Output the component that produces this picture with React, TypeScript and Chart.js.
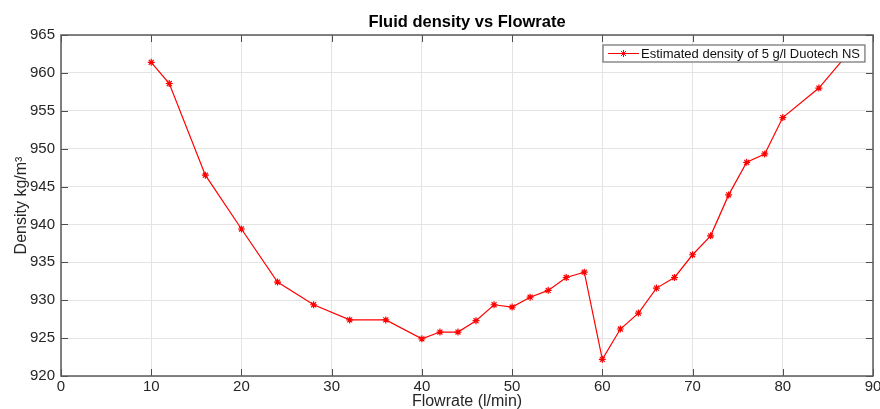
import React, { useEffect, useRef } from "react";
import { Chart, registerables } from "chart.js";

Chart.register(...registerables);

const flowrate = [10, 12, 16, 20, 24, 28, 32, 36, 40, 42, 44, 46, 48, 50, 52, 54, 56, 58, 60, 62, 64, 66, 68, 70, 72, 74, 76, 78, 80, 84, 87];
const density = [961.4, 958.6, 946.5, 939.4, 932.4, 929.4, 927.4, 927.4, 924.9, 925.8, 925.8, 927.3, 929.4, 929.1, 930.4, 931.3, 933.0, 933.7, 922.2, 926.2, 928.3, 931.6, 933.0, 936.0, 938.5, 943.9, 948.2, 949.3, 954.1, 958.0, 962.2];

const xMin = 0;
const xMax = 90;
const xStep = 10;
const yMin = 920;
const yMax = 965;
const yStep = 5;

const chartTitle = "Fluid density vs Flowrate";
const xTitle = "Flowrate (l/min)";
const yTitle = "Density kg/m³";
const seriesLabel = "Estimated density of 5 g/l Duotech NS";

const FONT = "'Liberation Sans', Arial, Helvetica, sans-serif";

function drawStar(ctx: CanvasRenderingContext2D, x: number, y: number, r: number) {
  ctx.beginPath();
  ctx.moveTo(x - r, y);
  ctx.lineTo(x + r, y);
  ctx.moveTo(x, y - r);
  ctx.lineTo(x, y + r);
  const d = r * Math.SQRT1_2;
  ctx.moveTo(x - d, y - d);
  ctx.lineTo(x + d, y + d);
  ctx.moveTo(x - d, y + d);
  ctx.lineTo(x + d, y - d);
  ctx.stroke();
}

const decorPlugin = {
  id: "decor",
  afterDatasetsDraw(chart: any) {
    const ctx = chart.ctx as CanvasRenderingContext2D;
    const { left, right, top, bottom } = chart.chartArea;
    const xs = chart.scales.x;
    const ys = chart.scales.y;
    ctx.save();
    // inward ticks
    ctx.strokeStyle = "#4d4d4d";
    ctx.lineWidth = 1;
    const tl = 7;
    ctx.beginPath();
    xs.ticks.forEach((t: any) => {
      const px = Math.round(xs.getPixelForValue(t.value)) + 0.5;
      ctx.moveTo(px, bottom);
      ctx.lineTo(px, bottom - tl);
      ctx.moveTo(px, top);
      ctx.lineTo(px, top + tl);
    });
    ys.ticks.forEach((t: any) => {
      const py = Math.round(ys.getPixelForValue(t.value)) + 0.5;
      ctx.moveTo(left, py);
      ctx.lineTo(left + tl, py);
      ctx.moveTo(right, py);
      ctx.lineTo(right - tl, py);
    });
    ctx.stroke();
    // box
    ctx.strokeStyle = "#5a5a5a";
    ctx.lineWidth = 1.5;
    ctx.strokeRect(left, top, right - left, bottom - top);

    // legend
    ctx.font = `13px ${FONT}`;
    const tw = ctx.measureText(seriesLabel).width;
    const bx = 603;
    const by = 45;
    const bh = 17;
    const sample = 31;
    const bw = 5 + sample + 3 + tw + 4;
    ctx.fillStyle = "#ffffff";
    ctx.fillRect(bx, by, bw, bh);
    ctx.strokeStyle = "#6e6e6e";
    ctx.lineWidth = 1.2;
    ctx.strokeRect(bx, by, bw, bh);
    ctx.strokeStyle = "#ff0000";
    ctx.lineWidth = 1;
    const cy = by + bh / 2;
    ctx.beginPath();
    ctx.moveTo(bx + 5, cy);
    ctx.lineTo(bx + 5 + sample, cy);
    ctx.stroke();
    drawStar(ctx, bx + 5 + sample / 2, cy, 3.5);
    ctx.fillStyle = "#111111";
    ctx.textBaseline = "middle";
    ctx.textAlign = "left";
    ctx.fillText(seriesLabel, bx + 5 + sample + 2, cy + 0.5);

    // titles
    const cx = (left + right) / 2;
    ctx.fillStyle = "#000000";
    ctx.textAlign = "center";
    ctx.textBaseline = "alphabetic";
    ctx.font = `bold 16.5px ${FONT}`;
    ctx.fillText(chartTitle, cx, 27);
    ctx.fillStyle = "#262626";
    ctx.font = `16px ${FONT}`;
    ctx.fillText(xTitle, cx, 406);
    ctx.save();
    ctx.translate(26, (top + bottom) / 2);
    ctx.rotate(-Math.PI / 2);
    ctx.fillText(yTitle, 0, 0);
    ctx.restore();
    ctx.restore();
  },
};

export default function App() {
  const ref = useRef<HTMLCanvasElement | null>(null);
  useEffect(() => {
    document.body.style.margin = "0";
    const canvas = ref.current;
    if (!canvas) return;
    const points = flowrate.map((f, i) => ({ x: f, y: density[i] }));
    const chart = new Chart(canvas, {
      type: "line",
      data: {
        datasets: [
          {
            label: seriesLabel,
            data: points,
            borderColor: "#ff0000",
            backgroundColor: "#ff0000",
            borderWidth: 1.2,
            pointStyle: "star",
            pointRadius: 3.5,
            pointBorderWidth: 1.2,
            pointBorderColor: "#ff0000",
            tension: 0,
            fill: false,
          },
        ],
      },
      options: {
        animation: false,
        responsive: false,
        devicePixelRatio: 1,
        layout: { padding: { top: 35, right: 7, left: 0, bottom: 0 } },
        plugins: {
          legend: { display: false },
          title: { display: false },
          tooltip: { enabled: false },
        },
        scales: {
          x: {
            type: "linear",
            min: xMin,
            max: xMax,
            ticks: {
              stepSize: xStep,
              color: "#262626",
              font: { family: FONT, size: 15 },
              padding: 2,
              maxRotation: 0,
            },
            grid: { color: "#e4e4e4", drawTicks: false, tickLength: 0 },
            border: { display: false },
            afterFit: (s: any) => {
              s.height = 33;
              s.paddingLeft = 0;
              s.paddingRight = 0;
            },
          },
          y: {
            type: "linear",
            min: yMin,
            max: yMax,
            ticks: {
              stepSize: yStep,
              color: "#262626",
              font: { family: FONT, size: 15 },
              padding: 6,
            },
            grid: { color: "#e4e4e4", drawTicks: false, tickLength: 0 },
            border: { display: false },
            afterFit: (s: any) => {
              s.width = 61;
              s.paddingTop = 0;
              s.paddingBottom = 0;
            },
          },
        },
      },
      plugins: [decorPlugin],
    });
    return () => chart.destroy();
  }, []);
  return (
    <div style={{ width: 880, height: 409 }}>
      <canvas ref={ref} width={880} height={409} style={{ display: "block" }} />
    </div>
  );
}
